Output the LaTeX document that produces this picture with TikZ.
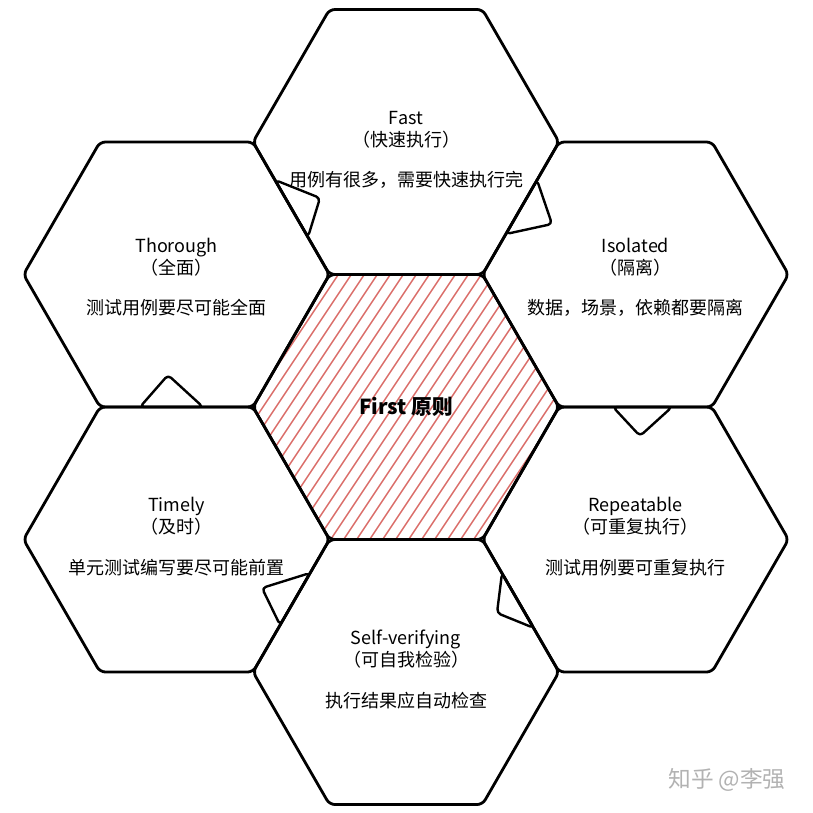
\documentclass[tikz,border=0pt]{standalone}
\usepackage{fontspec}
\setmainfont{Noto Sans CJK SC}
\usepackage{tikz}
\usetikzlibrary{shapes.geometric}
\definecolor{hatchred}{RGB}{218,108,104}
\definecolor{markgray}{RGB}{178,178,178}

\begin{document}
\begin{tikzpicture}[x=0.75pt,y=-0.75pt]
            \useasboundingbox (0,0) rectangle (813,813);
            \begin{scope}[every node/.style={regular polygon,regular polygon sides=6,draw,
                          line width=2.1pt,minimum size=229.5pt,inner sep=0pt,outer sep=0pt,
                          rounded corners=4pt}]
                \node[path picture={
                    \foreach \k in {-22,...,22}
                        \draw[hatchred,line width=1.1pt] (path picture bounding box.center)
                            ++(\k*13,0) ++(-200,300) -- ++(400,-600);
                    }] (first) at (406,407) {};
                \node (fast) at (406,142) {};
                \node (thorough) at (176.5,274.5) {};
                \node (isolated) at (635.5,274.5) {};
                \node (timely) at (176.5,539.5) {};
                \node (repeat) at (635.5,539.5) {};
                \node (selfver) at (406,672) {};
            \end{scope}

            \begin{scope}[every node/.style={align=center,font=\fontsize{13.5}{16.5}\selectfont}]
                \node[font=\fontsize{15.5}{18}\selectfont] (first-t) at (first.center) {\textbf{First 原则}};
                \node (fast-t) at ([yshift=-6pt]fast.center) {Fast\\（快速执行）\\[14pt]用例有很多，需要快速执行完};
                \node (thorough-t) at ([yshift=-2pt]thorough.center) {Thorough\\（全面）\\[14pt]测试用例要尽可能全面};
                \node (isolated-t) at ([yshift=-2pt]isolated.center) {Isolated\\（隔离）\\[14pt]数据，场景，依赖都要隔离};
                \node (timely-t) at ([yshift=2pt]timely.center) {Timely\\（及时）\\[14pt]单元测试编写要尽可能前置};
                \node (repeat-t) at ([yshift=2pt]repeat.center) {Repeatable\\（可重复执行）\\[14pt]测试用例要可重复执行};
                \node (selfver-t) at ([yshift=2pt]selfver.center) {Self-verifying\\（可自我检验）\\[14pt]执行结果应自动检查};
            \end{scope}

            \begin{scope}[line width=1.8pt, rounded corners=3pt, line join=round]
                % little tabs on the shared edges
                \draw (275,180) -- (320,198) -- (308,237) -- cycle;
                \draw (537,180) -- (552,224) -- (506,234) -- cycle;
                \draw (140,407) -- (168,375) -- (203,407) -- cycle;
                \draw (613,407) -- (640,436) -- (672,407) -- cycle;
                \draw (502,573) -- (497,613) -- (534,628) -- cycle;
                \draw (310,573) -- (262,588) -- (280,625) -- cycle;
            \end{scope}

            \node[markgray,font=\fontsize{17}{17}\selectfont] (mark) at (727,780) {知乎 @李强};
\end{tikzpicture}
\end{document}
